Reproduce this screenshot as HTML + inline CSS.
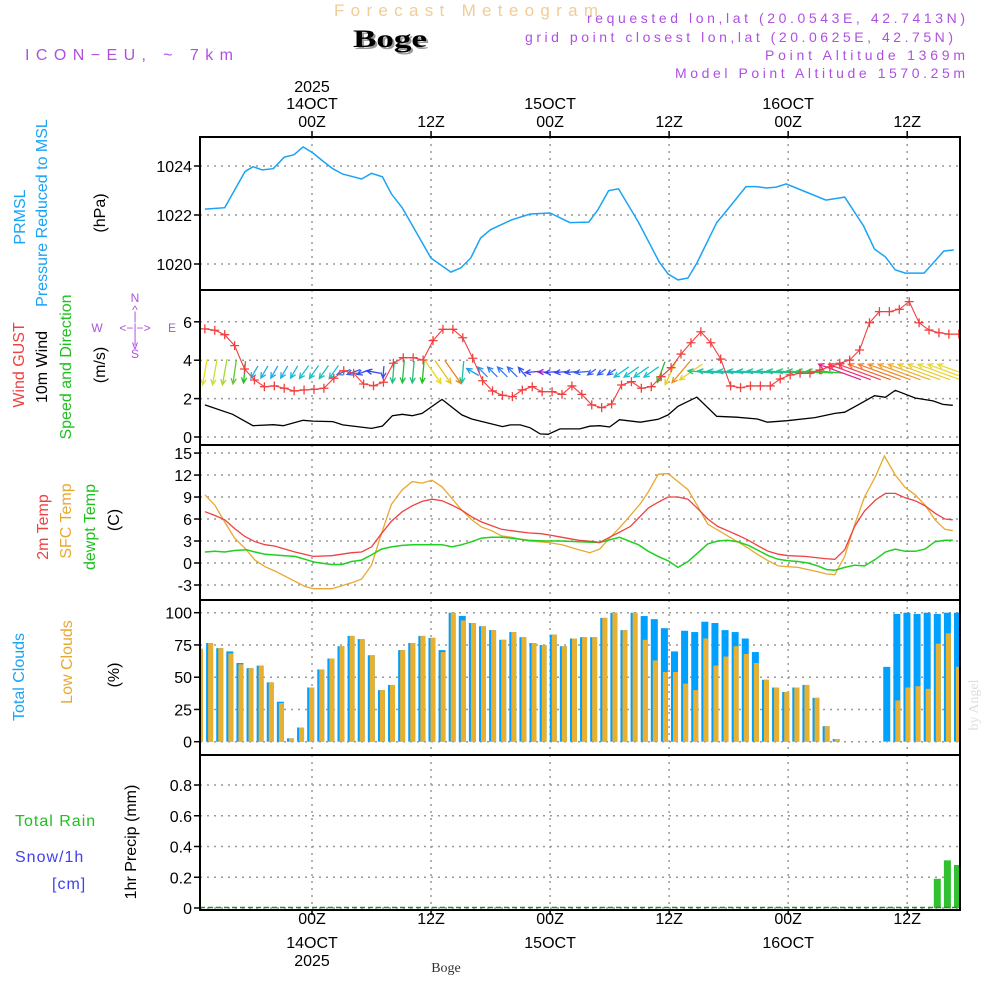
<!DOCTYPE html>
<html><head><meta charset="utf-8">
<style>
html,body{margin:0;padding:0;background:#fff;}
svg{display:block;font-family:"Liberation Sans",sans-serif;}
</style></head>
<body>
<svg id="chart" width="1000" height="1000" viewBox="0 0 1000 1000" xmlns="http://www.w3.org/2000/svg">
<defs>
<clipPath id="c1"><rect x="200" y="137" width="760" height="153"/></clipPath>
<clipPath id="c2"><rect x="200" y="290" width="760" height="155"/></clipPath>
<clipPath id="c3"><rect x="200" y="445" width="760" height="155"/></clipPath>
<clipPath id="c4"><rect x="200" y="600" width="760" height="155"/></clipPath>
<clipPath id="c5"><rect x="200" y="755" width="760" height="155"/></clipPath>
</defs>
<g>
<text x="334" y="16" font-size="17" fill="#f2cc94" textLength="264" lengthAdjust="spacing">Forecast Meteogram</text>
<text x="355" y="49" font-size="25" font-weight="bold" font-family="Liberation Serif,serif" fill="#999" textLength="74" lengthAdjust="spacingAndGlyphs">Boge</text>
<text x="353" y="47" font-size="25" font-weight="bold" font-family="Liberation Serif,serif" fill="#000" textLength="74" lengthAdjust="spacingAndGlyphs">Boge</text>
<text x="25" y="60" font-size="16" fill="#b050e0" textLength="208" lengthAdjust="spacing">ICON−EU, ~ 7km</text>
<text x="587" y="23" font-size="14" fill="#b050e0" textLength="378" lengthAdjust="spacing">requested lon,lat (20.0543E, 42.7413N)</text>
<text x="525" y="42" font-size="14" fill="#b050e0" textLength="428" lengthAdjust="spacing">grid point closest lon,lat (20.0625E, 42.75N)</text>
<text x="765" y="60" font-size="14" fill="#b050e0" textLength="200" lengthAdjust="spacing">Point Altitude 1369m</text>
<text x="675" y="78" font-size="14" fill="#b050e0" textLength="290" lengthAdjust="spacing">Model Point Altitude 1570.25m</text>
<text x="978" y="705" text-anchor="middle" font-size="14" font-family="Liberation Serif,serif" fill="#ddd" transform="rotate(-90 978 705)">by Angel</text>
</g>
<g id="labels" font-size="16"></g>
<g id="plot"></g>
</svg>
<script>
// ---- data ----
const pHours=[-10.8,-8.8,-6.75,-5.95,-5.0,-3.9,-2.8,-1.8,-0.9,0.1,1.1,2.1,3.1,5.0,6.0,7.1,8.0,9.1,12.0,14.0,15.0,16.0,17.0,18.0,20.1,22.0,24.0,26.0,27.9,28.8,29.9,30.9,32.9,35.0,35.9,36.9,37.9,38.8,40.8,41.8,43.75,44.8,45.8,46.8,47.8,49.8,51.8,53.7,55.6,56.7,57.8,58.8,59.8,61.7,63.7,64.7];
const pVals=[1022.24,1022.30,1023.77,1023.97,1023.84,1023.89,1024.36,1024.46,1024.78,1024.53,1024.20,1023.89,1023.67,1023.47,1023.70,1023.56,1022.86,1022.29,1020.24,1019.67,1019.84,1020.24,1021.06,1021.40,1021.80,1022.04,1022.08,1021.69,1021.71,1022.20,1022.99,1023.07,1021.71,1020.08,1019.59,1019.35,1019.43,1020.04,1021.69,1022.18,1023.16,1023.16,1023.10,1023.14,1023.27,1022.94,1022.61,1022.73,1021.55,1020.61,1020.29,1019.76,1019.63,1019.63,1020.53,1020.57];
const windHours=[-10.8,-8.0,-5.95,-3.9,-2.9,-0.9,0.1,2.1,3.1,6.0,7.1,8.1,9.1,10.1,11.1,13.1,15.1,16.1,19.2,20.0,21.0,22.0,23.0,23.8,25.0,27.0,28.0,29.0,30.0,31.0,33.1,34.9,35.9,36.9,38.8,40.8,42.8,44.9,45.9,47.9,50.7,52.7,53.7,54.9,56.7,57.8,58.8,60.8,62.6,63.6,64.6];
const windVals=[1.67,1.18,0.59,0.64,0.59,0.87,0.83,0.80,0.63,0.45,0.57,1.11,1.18,1.11,1.23,1.96,1.15,0.94,0.54,0.63,0.63,0.48,0.16,0.14,0.42,0.42,0.56,0.59,0.52,0.90,0.77,0.92,1.15,1.60,2.08,1.08,1.03,0.94,0.77,0.85,1.01,1.23,1.29,1.63,2.15,2.07,2.43,2.03,1.88,1.70,1.65];
const hourStart=-10.8;
const gustVals=[5.63,5.56,5.33,4.76,3.54,2.97,2.62,2.66,2.54,2.40,2.45,2.48,2.54,3.06,3.45,3.32,2.76,2.67,2.85,3.84,4.13,4.13,4.01,5.02,5.61,5.61,5.17,4.10,2.93,2.40,2.17,2.10,2.45,2.62,2.36,2.36,2.22,2.66,2.22,1.67,1.53,1.72,2.71,2.88,2.54,2.62,3.14,3.61,4.32,4.91,5.48,4.91,4.06,2.66,2.57,2.66,2.66,2.66,3.02,3.23,3.32,3.32,3.49,3.66,3.84,4.01,4.53,5.95,6.53,6.53,6.65,7.05,5.95,5.57,5.43,5.36,5.36];
const arrowDir=[190,190,190,188,185,210,210,210,210,210,215,215,215,215,250,250,250,280,185,185,185,185,185,145,145,145,185,300,315,315,315,315,320,265,270,265,265,265,265,235,235,235,235,235,235,235,200,205,220,235,275,275,275,275,275,275,275,275,275,275,275,275,275,275,290,290,290,290,290,290,290,290,290,290,290,290,290];
const arrowLen=[26,26,26,24,22,14,14,14,14,14,16,16,16,16,14,14,14,14,12,22,22,22,22,28,28,28,22,14,14,14,14,14,12,14,8,14,14,14,14,10,10,10,18,18,18,18,22,28,28,28,26,26,26,26,26,26,26,26,26,26,26,26,26,26,45,45,45,45,45,45,45,45,45,45,45,45,45];
const arrowColor=['#e0e020','#c8e030','#a8d830','#60c830','#20c020','#20b0e0','#20b0e0','#20a8e8','#20b0e0','#20b8d8','#20c0c8','#20c0c0','#20c0b8','#20c0c8','#3080f0','#3060f0','#3050f0','#3040f0','#3050f0','#20c080','#20c040','#20c080','#20c020','#e8d820','#e8c020','#f08020','#20c0a0','#20a0e0','#3090f0','#3080f0','#3080f0','#3070f0','#3050f0','#4040f0','#a020d0','#4040f0','#4048f0','#3050f0','#3060f0','#3060f0','#3060f0','#3060f0','#20c0d0','#20c0d0','#20c0d0','#20c0d0','#20c020','#e8d020','#f09020','#e8d030','#20c080','#20c0a0','#20c0b0','#20c0b0','#20c0b0','#20c0b0','#20c0a8','#20c0a0','#20c090','#20c880','#20c870','#20d050','#20d040','#20d020','#e02090','#f03070','#f04060','#f07030','#f08030','#f09030','#f0a030','#f0b030','#e8c830','#e8d030','#e8d830','#e8d830','#e8d830'];
const t2Hours=[-10.8,-9.8,-8.8,-7.8,-6.75,-5.75,-4.74,-3.73,-2.72,-1.71,0.13,2.0,4.0,5.0,6.0,7.0,8.0,9.1,10.1,11.1,12.1,13.1,14.1,15.1,16.1,17.1,18.1,19.1,20.1,21.8,23.1,24.0,25.2,26.9,28.5,29.0,31.0,32.1,33.9,34.9,35.9,36.9,37.9,38.9,39.9,40.9,41.9,42.9,44.0,45.0,46.0,47.0,48.0,49.7,51.7,52.7,53.7,54.7,55.7,56.8,57.8,58.8,59.8,60.8,61.8,62.8,63.8,64.6];
const t2Vals=[7.0,6.5,5.9,4.7,3.6,2.9,2.5,2.3,1.9,1.5,0.9,1.0,1.4,1.5,2.2,4.0,5.7,7.0,7.8,8.4,8.7,8.5,7.9,7.2,6.3,5.6,5.1,4.6,4.4,4.1,4.0,3.8,3.5,3.1,2.9,2.8,4.2,5.0,7.5,8.3,9.0,9.0,8.7,7.4,6.0,5.0,4.4,3.8,3.1,2.3,1.6,1.2,1.0,0.9,0.6,0.5,1.8,5.0,7.1,8.6,9.5,9.5,8.9,8.5,7.8,6.8,6.0,5.9];
const sfcHours=[-10.8,-9.8,-8.8,-7.8,-6.75,-5.75,-4.74,-3.73,-2.72,-1.71,-0.71,0.13,2.0,3.0,4.0,5.0,6.0,7.0,8.0,9.1,10.1,11.1,12.1,13.1,14.1,15.1,16.1,17.1,18.1,19.1,20.1,21.8,22.8,23.8,25.2,26.9,28.0,29.0,30.0,31.0,32.1,33.1,33.9,34.9,35.9,36.9,37.9,38.9,39.9,40.9,41.9,42.9,44.0,45.0,46.0,47.0,48.0,49.0,50.0,51.0,51.9,52.7,53.7,54.7,55.7,56.8,57.7,58.8,59.8,60.8,61.8,62.8,63.8,64.6];
const sfcVals=[9.3,7.9,5.6,3.4,2.0,0.4,-0.5,-1.1,-1.8,-2.5,-3.2,-3.5,-3.5,-3.1,-2.7,-2.2,-0.3,4.0,8.0,10.0,11.1,10.9,11.3,10.4,8.8,7.2,5.9,4.9,4.4,3.7,3.5,3.0,2.9,2.8,2.5,1.8,1.4,1.9,3.4,4.8,6.5,8.1,9.7,12.1,12.2,11.1,10.0,7.7,5.3,4.5,3.7,2.9,2.0,1.1,0.3,-0.4,-0.5,-0.6,-0.9,-1.2,-1.5,-1.6,0.9,5.2,9.0,11.8,14.6,12.0,10.3,9.3,7.9,5.9,4.6,4.4];
const dewHours=[-10.8,-9.8,-8.8,-7.8,-6.6,-5.75,-4.74,-2.72,-1.71,-0.71,0.3,2.0,3.0,4.0,5.0,6.0,7.0,8.0,9.1,10.1,12.1,13.1,14.1,15.1,16.1,17.1,18.1,19.1,20.1,21.8,23.5,25.2,26.9,29.0,31.0,32.9,33.9,34.9,35.9,36.9,37.9,39.9,40.9,41.9,42.9,44.0,45.0,46.0,47.0,48.0,49.0,50.0,51.0,51.9,52.7,53.7,54.7,55.7,56.8,57.8,58.8,59.8,60.8,61.8,62.8,63.8,64.6];
const dewVals=[1.5,1.6,1.5,1.7,1.8,1.5,1.2,1.0,0.9,0.5,0.1,-0.2,-0.2,0.2,0.4,1.1,1.9,2.2,2.4,2.5,2.5,2.5,2.2,2.5,2.9,3.4,3.5,3.5,3.4,3.1,3.0,3.0,2.9,2.8,3.5,2.5,1.6,0.9,0.3,-0.6,0.2,2.6,3.0,3.1,2.9,2.4,1.7,1.0,0.5,0.3,0.2,0.0,-0.4,-0.9,-1.0,-0.6,-0.3,-0.4,0.5,1.5,1.9,1.6,1.6,1.9,2.9,3.1,3.1];
const totalCloud=[72,76.5,72.5,70,61,57,59,46,31,2.6,11,42,56,64.5,74,82,79.5,67,40,44,71,76.5,82,80.5,71,100,97.5,92,89.5,86.5,79,85,81,76.5,75,83,74,80,81,81,96,100,86.5,100,97.4,95,88,70,86,85,93,92,86.5,85,80,69.5,48,42,38.5,42,44,34,12,2,0,0,0,0,58,99,100,99,100,99,100,100];
const lowCloud=[72,76.5,72.5,68.5,60,57,59,46,30,2.6,11,42,56,64.5,74,82,79.5,67,40,44,71,76.5,82,80.5,69.5,100,94,92,89.5,86.5,79,85,81,76.5,75,83,74,80,81,81,96,100,86.5,100,79,63,54,54,45,40,80,59,66,74,68,61,48,42,38.5,42,44,34,12,2,0,0,0,0,0.5,32,42,43,41,76,84,58];
const precip=[0,0,0,0,0,0,0,0,0,0,0,0,0,0,0,0,0,0,0,0,0,0,0,0,0,0,0,0,0,0,0,0,0,0,0,0,0,0,0,0,0,0,0,0,0,0,0,0,0,0,0,0,0,0,0,0,0,0,0,0,0,0,0,0,0,0,0,0,0,0,0,0,0,0.19,0.31,0.28];
const pTicks=[1020,1022,1024];
const wTicks=[0,2,4,6];
const tTicks=[-3,0,3,6,9,12,15];
const cTicks=[0,25,50,75,100];
const rTicks=[0,0.2,0.4,0.6,0.8];
const gridHours=[0,12,24,36,48,60];
const topLabels=[["2025","14OCT","00Z"],["","","12Z"],["","15OCT","00Z"],["","","12Z"],["","16OCT","00Z"],["","","12Z"]];
const botLabels=[["00Z","14OCT","2025"],["12Z","",""],["00Z","15OCT",""],["12Z","",""],["00Z","16OCT",""],["12Z","",""]];

// ---- scales ----
const X0=200,X1=960;
const xh=h=>312+h*9.92;
const yP=p=>166+(1024-p)*24.5;
const yW=v=>437-v*19.2;
const yT=t=>563-t*7.33;
const yC=c=>741.7-c*1.29;
const yR=r=>908-r*153.75;
const barX=i=>199.5+i*(957.5-199.5)/75;

const NS="http://www.w3.org/2000/svg";
const plot=document.getElementById('plot');
const labels=document.getElementById('labels');
function mk(tag,attrs,parent){const e=document.createElementNS(NS,tag);for(const k in attrs)e.setAttribute(k,attrs[k]);(parent||plot).appendChild(e);return e;}
function txt(s,x,y,attrs,parent){const e=mk('text',Object.assign({x:x,y:y},attrs||{}),parent||labels);e.textContent=s;return e;}

const panels=[
 {top:137,bot:290,clip:'c1',ticks:pTicks,ys:yP,fmt:v=>String(v),name:'pressure'},
 {top:290,bot:445,clip:'c2',ticks:wTicks,ys:yW,fmt:v=>String(v),name:'wind'},
 {top:445,bot:600,clip:'c3',ticks:tTicks,ys:yT,fmt:v=>String(v),name:'temperature'},
 {top:600,bot:755,clip:'c4',ticks:cTicks,ys:yC,fmt:v=>String(v),name:'clouds'},
 {top:755,bot:910,clip:'c5',ticks:rTicks,ys:yR,fmt:v=>String(v),name:'precip'}
];
const groups=[];
panels.forEach((P,pi)=>{
  const g=mk('g',{'clip-path':'url(#'+P.clip+')'});
  
  
  groups.push(g);
  gridHours.forEach(h=>{
    const l=mk('line',{x1:xh(h),x2:xh(h),y1:P.top,y2:P.bot,stroke:'#999','stroke-width':1.5,'stroke-dasharray':'2,5'},g);
    
    
  });
  P.ticks.forEach(v=>{
    const y=P.ys(v);
    if(y>P.top+2&&y<P.bot-1){
      const l=mk('line',{x1:X0,x2:X1,y1:y,y2:y,stroke:'#999','stroke-width':1.5,'stroke-dasharray':'2,5'},g);
      
      
    }
    const tk=mk('line',{x1:X0-6,x2:X0,y1:y,y2:y,stroke:'#000','stroke-width':1.5});
    
    
    const t=txt(P.fmt(v),X0-8,y+6,{'text-anchor':'end','font-size':16,fill:'#000'});
    
    
  });
});
function line(hs,vs,ys,color,g,name,w){
  const d=hs.map((h,i)=>(i?'L':'M')+xh(h).toFixed(1)+','+ys(vs[i]).toFixed(1)).join('');
  const p=mk('path',{d:d,fill:'none',stroke:color,'stroke-width':w||1.3},g);
  
  
  return p;
}
line(pHours,pVals,yP,'#1aa3f5',groups[0],'pressure-line',1.5);
line(windHours,windVals,yW,'#000',groups[1],'wind-speed-line',1.3);
arrowDir.forEach((a,i)=>{
  const cx=xh(hourStart+i),cy=372,L=arrowLen[i],r=a*Math.PI/180;
  const dx=Math.sin(r)*L,dy=-Math.cos(r)*L;
  const x1=cx-dx/2,y1=cy-dy/2,x2=cx+dx/2,y2=cy+dy/2;
  const hl=6,ang=Math.atan2(y2-y1,x2-x1);
  const ax=x2-hl*Math.cos(ang-0.45),ay=y2-hl*Math.sin(ang-0.45);
  const bx=x2-hl*Math.cos(ang+0.45),by=y2-hl*Math.sin(ang+0.45);
  const p=mk('path',{d:`M${x1},${y1}L${x2},${y2}M${ax},${ay}L${x2},${y2}L${bx},${by}`,fill:'none',stroke:arrowColor[i],'stroke-width':1.3},groups[1]);
  
  
});
const gustHours=gustVals.map((v,i)=>hourStart+i);
line(gustHours,gustVals,yW,'#f04040',groups[1],'gust-line',1.1);
gustVals.forEach((v,i)=>{
  const x=xh(gustHours[i]),y=yW(v);
  const p=mk('path',{d:`M${x-4.5},${y}H${x+4.5}M${x},${y-4.5}V${y+4.5}`,stroke:'#f04040','stroke-width':1.3},groups[1]);
  
  
});
line(sfcHours,sfcVals,yT,'#e8a830',groups[2],'sfc-temp-line',1.3);
line(dewHours,dewVals,yT,'#20d020',groups[2],'dewpoint-line',1.5);
line(t2Hours,t2Vals,yT,'#f04040',groups[2],'temp-2m-line',1.3);
totalCloud.forEach((v,i)=>{
  const c=barX(i);
  const b=mk('rect',{x:c-3.5,y:yC(v),width:7,height:Math.max(0,yC(0)-yC(v)),fill:'#00a0ff'},groups[3]);
  
  
  const lv=lowCloud[i];
  const o=mk('rect',{x:c-1.5,y:yC(lv),width:5,height:Math.max(0,yC(0)-yC(lv)),fill:'#e8b030'},groups[3]);
  
  
});
precip.forEach((v,i)=>{
  const c=barX(i);
  const b=mk('rect',{x:c-3.5,y:yR(v),width:7,height:Math.max(0,yR(0)-yR(v)),fill:'#30c030'},groups[4]);
  
  
});
const zl=mk('line',{x1:X0,x2:X1,y1:907.5,y2:907.5,stroke:'#2a8a2a','stroke-width':1.5,'stroke-dasharray':'5,3'},groups[4]);


panels.forEach(P=>{
  const r=mk('rect',{x:X0,y:P.top,width:X1-X0,height:P.bot-P.top,fill:'none',stroke:'#000','stroke-width':2});
  
  
});
gridHours.forEach((h,i)=>{
  const x=xh(h);
  const tk=mk('line',{x1:x,x2:x,y1:131,y2:137,stroke:'#000','stroke-width':1.5});
  
  
  const tb=mk('line',{x1:x,x2:x,y1:910,y2:915,stroke:'#000','stroke-width':1.5});
  
  
  [92,109,127].forEach((y,k)=>{ if(topLabels[i][k]){const t=txt(topLabels[i][k],x,y,{'text-anchor':'middle','font-size':16,fill:'#000'});
    
    }});
  [924,948,966].forEach((y,k)=>{ if(botLabels[i][k]){const t=txt(botLabels[i][k],x,y,{'text-anchor':'middle','font-size':16,fill:'#000'});
    
    }});
});
const sb=txt('Boge',446,972,{'text-anchor':'middle','font-size':14,'font-family':'Liberation Serif,serif',fill:'#333'});


const rot=[
 ['PRMSL',25,217,'#1aa3f5'],['Pressure Reduced to MSL',47,213,'#1aa3f5'],['(hPa)',105,213,'#000'],
 ['Wind GUST',24,365,'#f04040'],['10m Wind',47,367,'#000'],['Speed and Direction',71,367,'#20c020'],['(m/s)',105,365,'#000'],
 ['2m Temp',48,527,'#f04040'],['SFC Temp',71,521,'#e8a830'],['dewpt Temp',95,527,'#20c020'],['(C)',119,520,'#000'],
 ['Total Clouds',24,677,'#1aa3f5'],['Low Clouds',72,662,'#e8a830'],['(%)',119,675,'#000'],
 ['1hr Precip (mm)',136,842,'#000']
];
rot.forEach(r=>{
  const t=txt(r[0],r[1],r[2],{'text-anchor':'middle','font-size':16,fill:r[3],transform:`rotate(-90 ${r[1]} ${r[2]})`});
  
  
});
[['Total  Rain',15,826,'#20c020'],['Snow/1h',15,862,'#4040f0'],['[cm]',52,889,'#4040f0']].forEach(r=>{
  const t=txt(r[0],r[1],r[2],{'font-size':16,fill:r[3],'xml:space':'preserve','letter-spacing':1});
  
  
});
[['N',135,302],['S',135,358],['W',97,332],['E',172,332],['<−|−>',135,332],['^',135,314],['|',135,320],['|',135,343],['v',135,349]].forEach(r=>{
  const t=txt(r[0],r[1],r[2],{'text-anchor':'middle','font-size':12,fill:'#b050e0'});
  
  
});
</script>
</body></html>
